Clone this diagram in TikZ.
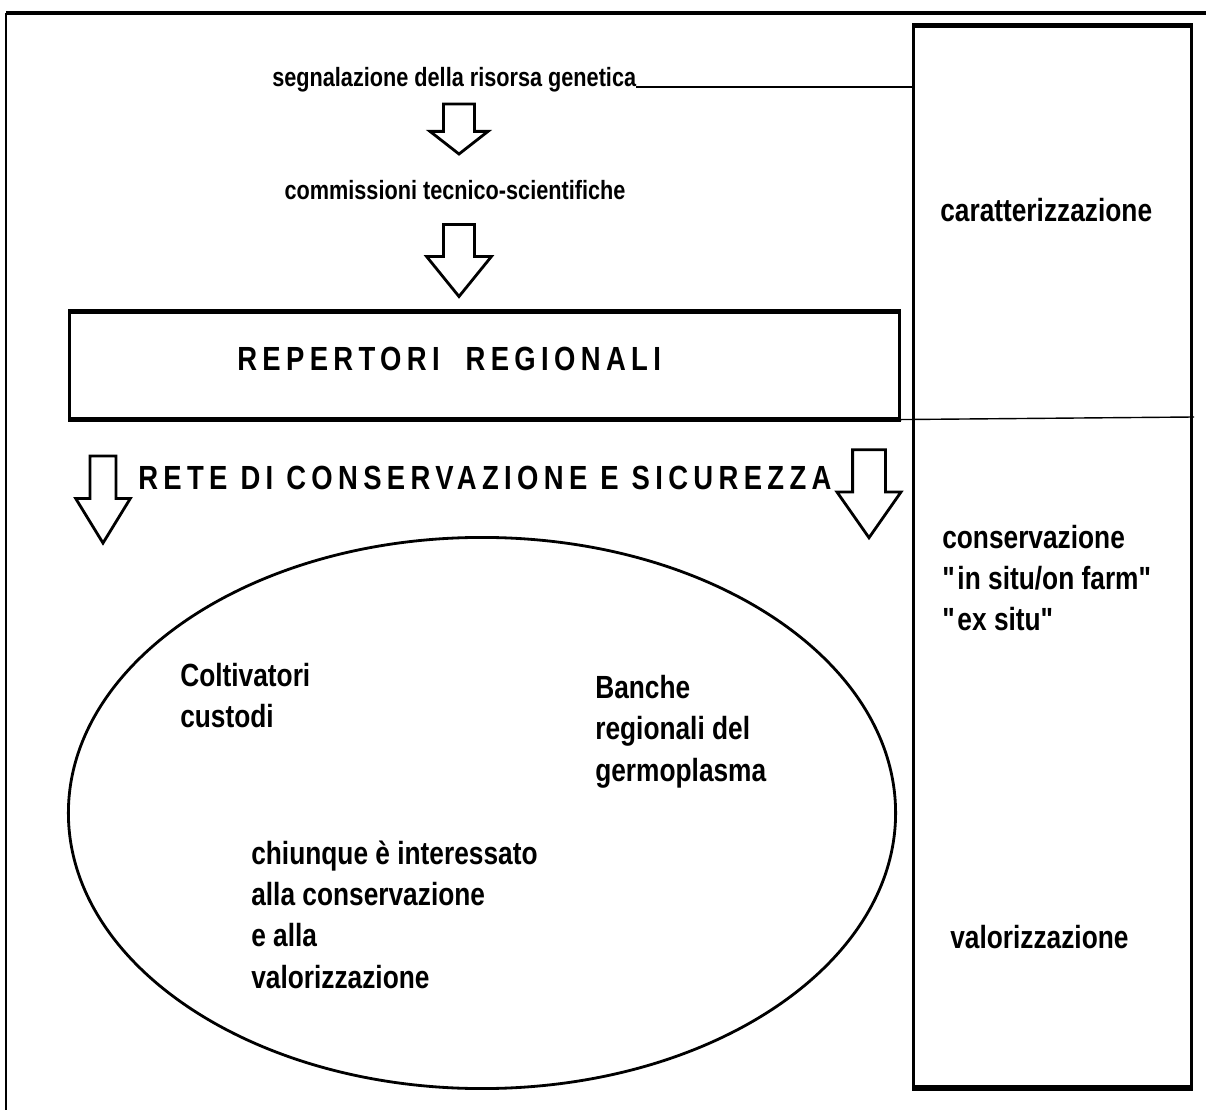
\documentclass[tikz,border=0pt]{standalone}
\usepackage{fontspec}
\setmainfont{Liberation Sans}[FakeStretch=0.82]
\newfontfamily\spacedfont{Liberation Sans}[FakeStretch=0.82,LetterSpace=16]
\usetikzlibrary{shapes.arrows,shapes.geometric,positioning}

\tikzset{
  hollowarrow/.style={single arrow, draw, line width=2pt, rotate=-90, inner xsep=0pt, minimum width=0pt},
  smalltext/.style={font=\fontsize{18.8}{24}\selectfont\bfseries, inner sep=0pt},
  bigtext/.style={font=\fontsize{22.8}{29.2}\selectfont\bfseries, inner sep=0pt, align=left},
  spacedtext/.style={font=\fontsize{23.8}{29}\selectfont\spacedfont\bfseries, inner sep=0pt},
  box/.style={draw, inner sep=0pt, anchor=north west},
}

\begin{document}
\begin{tikzpicture}[x=0.025cm,y=-0.025cm]
\useasboundingbox (0,0) rectangle (1206,1115);
% outer frame
\coordinate (frameTR) at (1206,13);
\coordinate (frameTL) at (6,13);
\coordinate (frameBL) at (6,1110);
\draw[line width=2.4pt] (frameTR) -- (frameTL);
\draw[line width=1.8pt] (frameTL) -- (frameBL);

% right column
\node[box, line width=2pt, minimum width=6.95cm, minimum height=26.5cm] (col) at (912,25) {};
\draw[line width=3.5pt] (col.north west) -- (col.north east);
\draw[line width=3.5pt] (col.south west) -- (col.south east);

% top of the flow
\node[smalltext, anchor=base west] (segn) at (272,87) {segnalazione della risorsa genetica};
\draw[line width=1pt] (segn.base east) -- (segn.base east -| col.west);
\node[hollowarrow, minimum height=1.25cm, inner ysep=0.35cm, single arrow head extend=0.34cm, single arrow tip angle=104] (a1) at (459,123) {};
\node[smalltext, anchor=base] (comm) at (455,200) {commissioni tecnico-scientifiche};
\node[hollowarrow, minimum height=1.8cm, inner ysep=0.35cm, single arrow head extend=0.425cm, single arrow tip angle=78] (a2) at (459,251) {};

% repertori
\node[box, line width=1.8pt, minimum width=20.75cm, minimum height=2.65cm] (rep) at (68,311) {};
\draw[line width=3.5pt] (rep.north west) -- (rep.north east);
\draw[line width=3.5pt] (rep.south west) -- (rep.south east);
\node[spacedtext, anchor=base west] (reptext) at (237,371) {REPERTORI\ \ REGIONALI};
\coordinate (sepend) at (1194,417);
\draw[line width=1pt] (rep.south east) -- (sepend);

% rete
\node[spacedtext, anchor=base west] (rete) at (138,490) {RETE DI CONSERVAZIONE E SICUREZZA};
\node[hollowarrow, minimum height=2.175cm, inner ysep=0.2875cm, single arrow head extend=0.36cm, single arrow tip angle=63] (a3) at (103,489) {};
\node[hollowarrow, minimum height=2.2cm, inner ysep=0.375cm, single arrow head extend=0.39cm, single arrow tip angle=70] (a4) at (869,482) {};

% ellipse
\node[draw, ellipse, line width=2pt, minimum width=20.675cm, minimum height=13.775cm, inner sep=0pt] (net) at (482,813) {};
\node[bigtext, anchor=base west] (colt) at (180,728) {Coltivatori\\custodi};
\node[bigtext, anchor=base west] (banche) at (595,781) {Banche\\regionali del\\germoplasma};
\node[bigtext, anchor=base west] (chi) at (251,988) {chiunque è interessato\\alla conservazione\\e alla\\valorizzazione};

% right column labels
\node[bigtext, anchor=base west] (car) at (940,222) {caratterizzazione};
\node[bigtext, anchor=base west] (cons) at (942,631) {conservazione\\\textquotedbl in situ/on farm\textquotedbl\\\textquotedbl ex situ\textquotedbl};
\node[bigtext, anchor=base west] (val) at (950,948) {valorizzazione};
\end{tikzpicture}
\end{document}
